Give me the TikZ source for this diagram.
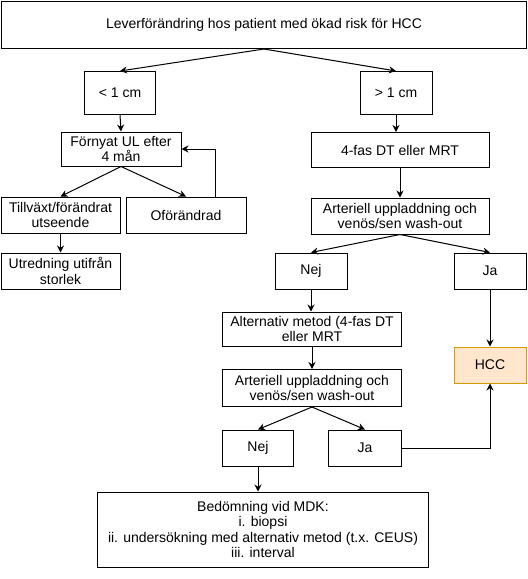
\documentclass[tikz,border=0pt]{standalone}
\usepackage{fontspec}
\setmainfont{Liberation Sans}
\usetikzlibrary{arrows.meta}

\definecolor{hccfill}{HTML}{FFE6CC}
\definecolor{hccline}{HTML}{D79B00}

\tikzset{
  box/.style={draw, line width=1pt, inner sep=1pt, align=center,
    font=\fontsize{14}{15.5}\selectfont},
  arr/.style={line width=1pt, -{Stealth[length=7pt,width=7pt]}}
}

\begin{document}
\begin{tikzpicture}[x=1pt,y=-1pt]
\useasboundingbox (0,0) rectangle (528,579);
\node[box, minimum width=525pt, minimum height=47pt](risk) at (264,25){Leverförändring hos patient med ökad risk för HCC};
\node[box, minimum width=71pt, minimum height=43pt](small) at (120,93){< 1 cm};
\node[box, minimum width=72pt, minimum height=43pt](large) at (396,93){> 1 cm};
\draw[arr] (risk.south) -- (small.north);
\draw[arr] (risk.south) -- (large.north);
% vänster gren
\node[box, minimum width=120pt, minimum height=34pt](renew) at (121,149){Förnyat UL efter\\4 mån};
\node[box, minimum width=119pt, minimum height=36pt](grow) at (60.5,215){Tillväxt/förändrat\\utseende};
\node[box, minimum width=120pt, minimum height=36pt](same) at (186,215){Oförändrad};
\node[box, minimum width=119pt, minimum height=36pt](work) at (60.5,271){Utredning utifrån\\storlek};
\draw[arr] (small.south) -- (renew.north);
\draw[arr] (renew.south) -- (grow.north);
\draw[arr] (renew.south) -- (same.north);
\draw[arr] ([xshift=29pt]same.north) |- (renew.east);
\draw[arr] (grow.south) -- (work.north);
% höger gren
\node[box, minimum width=178pt, minimum height=35pt](ct) at (400,150){4-fas DT eller MRT};
\node[box, minimum width=178pt, minimum height=36pt](art1) at (400,216){Arteriell uppladdning och\\venös/sen wash-out};
\node[box, minimum width=72pt, minimum height=36pt](nej1) at (311,271){Nej};
\node[box, minimum width=72pt, minimum height=36pt](ja1) at (490,271){Ja};
\node[box, draw=hccline, fill=hccfill, minimum width=72pt, minimum height=36pt](hcc) at (490,365){HCC};
\draw[arr] (large.south) -- (large.south |- ct.north);
\draw[arr] (ct.south) -- (art1.north);
\draw[arr] (art1.south) -- (nej1.north);
\draw[arr] (art1.south) -- (ja1.north);
\draw[arr] (ja1.south) -- (hcc.north);
% alternativ metod
\node[box, minimum width=179pt, minimum height=34pt](alt) at (312,329){Alternativ metod (4-fas DT\\eller MRT};
\node[box, minimum width=179pt, minimum height=37pt](art2) at (312,388){Arteriell uppladdning och\\venös/sen wash-out};
\node[box, minimum width=71pt, minimum height=36pt](nej2) at (258,448){Nej};
\node[box, minimum width=73pt, minimum height=36pt](ja2) at (365,448){Ja};
\node[box, minimum width=331pt, minimum height=75pt](mdk) at (263,529.5){Bedömning vid MDK:\\i. biopsi\\ii. undersökning med alternativ metod (t.x. CEUS)\\iii. interval};
\draw[arr] (nej1.south) -- (nej1.south |- alt.north);
\draw[arr] (alt.south) -- (art2.north);
\draw[arr] (art2.south) -- (nej2.north);
\draw[arr] (art2.south) -- (ja2.north);
\draw[arr] (ja2.east) -| (hcc.south);
\draw[arr] (nej2.south) -- (nej2.south |- mdk.north);
\end{tikzpicture}
\end{document}
